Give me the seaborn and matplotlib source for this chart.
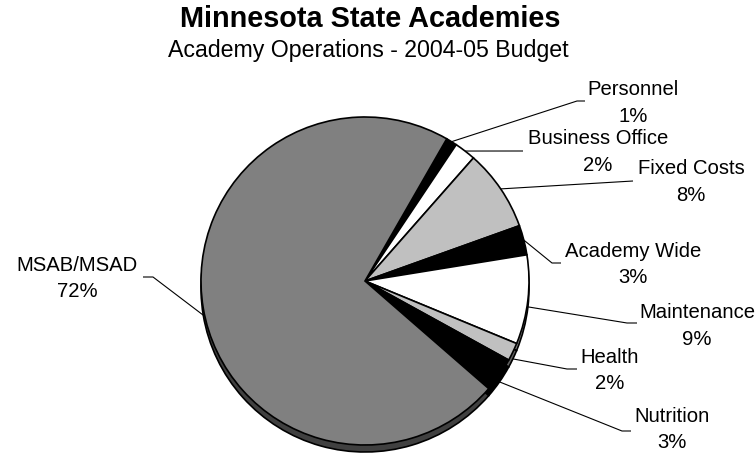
import numpy as np
import matplotlib
matplotlib.use("Agg")
import matplotlib.pyplot as plt
import seaborn as sns

# Data (share of the 2004-05 budget, in %)
labels = ["Personnel", "Business Office", "Fixed Costs", "Academy Wide",
          "Maintenance", "Health", "Nutrition", "MSAB/MSAD"]
shares = [1.08, 2.11, 8.03, 2.92, 8.78, 1.78, 3.39, 71.91]

top_colors = ["#000000", "#ffffff", "#c0c0c0", "#000000",
              "#ffffff", "#c0c0c0", "#000000", "#808080"]
side_colors = ["#000000", "#808080", "#606060", "#000000",
               "#808080", "#606060", "#000000", "#404040"]

# label layout (pixel coords, y pointing down; y = baseline of the % line)
label_x = [633, 598, 691, 633, 697, 610, 672, 77]
label_y = [121.7, 170.7, 200.7, 283.3, 345, 389.3, 448.5, 297.3]
elbows = [(577, 101), (523, 151), (633, 181), (552, 263),
          (627, 323), (567, 369), (622, 431), (153, 277)]
tip_x = [585, 523, 633, 561, 637, 577, 631, 143]

CX, CY, R, DEPTH = 365, 281, 164, 7

sns.set_theme(style="white")
plt.rcParams['font.family'] = ['Liberation Sans', 'DejaVu Sans']

fig = plt.figure(figsize=(7.56, 4.54), dpi=100)
ax = fig.add_axes([0, 0, 1, 1])

# side of the "3D" pie, drawn first and shifted down
ax.pie(shares, colors=side_colors, center=(CX, CY + DEPTH), radius=R,
       startangle=-60.1, counterclock=True, frame=True,
       wedgeprops=dict(edgecolor="black", linewidth=1.2))
wedges, _ = ax.pie(shares, colors=top_colors, center=(CX, CY), radius=R,
                   startangle=-60.1, counterclock=True, frame=True,
                   wedgeprops=dict(edgecolor="black", linewidth=1.2))

ax.set_xlim(0, 756)
ax.set_ylim(454, 0)
ax.set_aspect("equal")
ax.axis("off")

for i, w in enumerate(wedges):
    mid = np.deg2rad((w.theta1 + w.theta2) / 2)
    sx = CX + R * np.cos(mid)
    sy = CY + R * np.sin(mid)
    if np.sin(mid) > 0.05:
        sy += DEPTH
    ex, ey = elbows[i]
    ax.plot([sx, ex, tip_x[i]], [sy, ey, ey], color="black", lw=0.8,
            solid_capstyle="butt")
    ax.text(label_x[i], label_y[i], f"{labels[i]}\n{shares[i]:.0f}%",
            ha="center", va="baseline", multialignment="center",
            fontsize=14.6, linespacing=1.5, color="black")

ax.text(370.5, 26.7, "Minnesota State Academies", ha="center", va="baseline",
        fontsize=20.8, fontweight="bold", color="black")
ax.text(368.3, 56.7, "Academy Operations - 2004-05 Budget", ha="center",
        va="baseline", fontsize=16.7, color="black")

fig.savefig("out.png", dpi=100, facecolor="white")
